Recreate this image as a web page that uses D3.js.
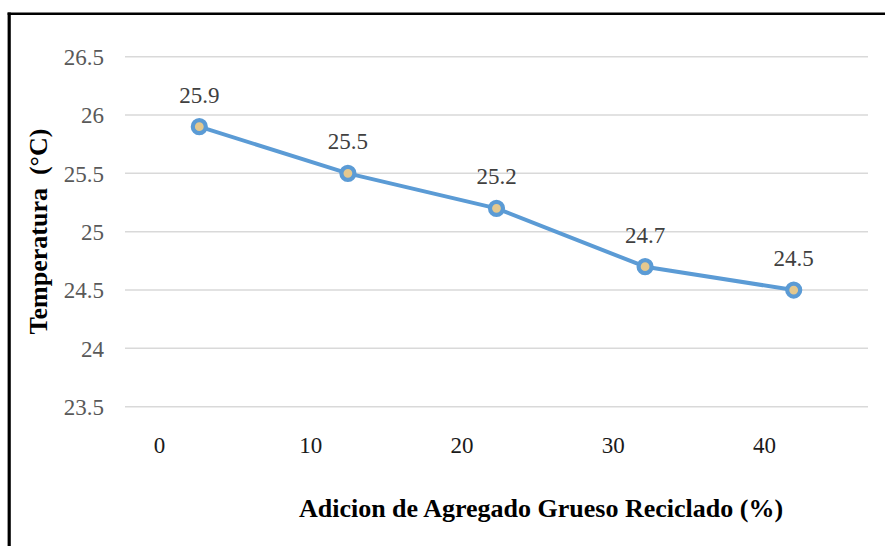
<!DOCTYPE html>
<html>
<head>
<meta charset="utf-8">
<script src="https://cdn.jsdelivr.net/npm/d3@7"></script>
<style>
  html, body { margin: 0; padding: 0; background: #fff; }
  svg { display: block; }
  svg text { font-family: "Liberation Serif", "Times New Roman", "DejaVu Serif", serif; }
</style>
</head>
<body>
<svg id="chart" width="885" height="546"></svg>
<script>
// ---- data ----
const categories = ["0", "10", "20", "30", "40"];
const temperatures = [25.9, 25.5, 25.2, 24.7, 24.5];
const xTickValues = [0, 10, 20, 30, 40];
const yTickValues = [23.5, 24, 24.5, 25, 25.5, 26, 26.5];
const xTitle = "Adicion de Agregado Grueso Reciclado (%)";
const yTitle = "Temperatura  (°C)";

const svg = d3.select("#chart");

// frame (black border, left and top visible)
svg.append("line").attr("x1", 9.2).attr("x2", 9.2).attr("y1", 12.5).attr("y2", 546)
  .attr("stroke", "#000").attr("stroke-width", 3.2);
svg.append("line").attr("x1", 7.6).attr("x2", 885).attr("y1", 13.8).attr("y2", 13.8)
  .attr("stroke", "#000").attr("stroke-width", 2.6);

const plot = { left: 125, right: 868, top: 56.7, bottom: 406.7 };

const x = d3.scaleBand().domain(categories).range([plot.left, plot.right]).padding(0);
const xLabelScale = d3.scaleLinear().domain([0, 40]).range([159, 764]);
const y = d3.scaleLinear().domain([23.5, 26.5]).range([plot.bottom, plot.top]);

// gridlines
svg.append("g")
  .selectAll("line")
  .data(yTickValues)
  .join("line")
  .attr("x1", plot.left).attr("x2", plot.right)
  .attr("y1", d => y(d)).attr("y2", d => y(d))
  .attr("stroke", "#d9d9d9").attr("stroke-width", 1.5);

// y axis labels
const yAxis = d3.axisLeft(y).tickValues(yTickValues).tickFormat(d => String(d)).tickSize(0).tickPadding(0);
const gy = svg.append("g").attr("transform", "translate(104,0)").call(yAxis)
  .attr("font-family", null);
gy.select(".domain").remove();
gy.selectAll("text")
  .attr("font-size", 23).attr("fill", "#595959").attr("dy", "0.34em");

// x axis labels
const xAxis = d3.axisBottom(xLabelScale).tickValues(xTickValues).tickFormat(d => String(d)).tickSize(0).tickPadding(0);
const gx = svg.append("g").attr("transform", "translate(0,453)").call(xAxis)
  .attr("font-family", null);
gx.select(".domain").remove();
gx.selectAll("text")
  .attr("font-size", 23).attr("fill", "#1a1a1a").attr("dy", 0).attr("y", 0);

// line
const pts = categories.map((c, i) => ({ c, v: temperatures[i] }));
const line = d3.line().x(d => x(d.c) + x.bandwidth() / 2).y(d => y(d.v));
svg.append("path").datum(pts)
  .attr("d", line).attr("fill", "none")
  .attr("stroke", "#5b9bd5").attr("stroke-width", 4)
  .attr("stroke-linejoin", "round").attr("stroke-linecap", "round");

// markers
svg.append("g").selectAll("circle").data(pts).join("circle")
  .attr("cx", d => x(d.c) + x.bandwidth() / 2)
  .attr("cy", d => y(d.v))
  .attr("r", 6.5)
  .attr("fill", "#e4c88e")
  .attr("stroke", "#5b9bd5").attr("stroke-width", 4.2);

// data labels
svg.append("g").selectAll("text").data(pts).join("text")
  .attr("x", d => x(d.c) + x.bandwidth() / 2)
  .attr("y", d => y(d.v) - 24)
  .attr("text-anchor", "middle")
  .attr("font-size", 23).attr("fill", "#404040")
  .text(d => String(d.v));

// axis titles
svg.append("text")
  .attr("x", 541).attr("y", 517)
  .attr("text-anchor", "middle")
  .attr("font-size", 26).attr("font-weight", "bold").attr("fill", "#000")
  .text(xTitle);

svg.append("text")
  .attr("transform", "translate(47,231.5) rotate(-90)")
  .attr("text-anchor", "middle")
  .attr("font-size", 26).attr("font-weight", "bold").attr("fill", "#000")
  .style("white-space", "pre")
  .text(yTitle);
</script>
</body>
</html>
